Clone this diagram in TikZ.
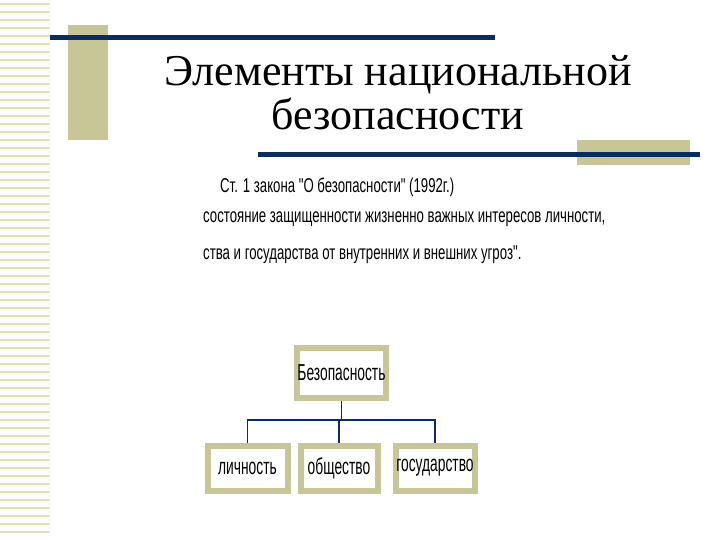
\documentclass[tikz,border=0pt]{standalone}
\usepackage{fontspec}
\usepackage{graphicx}
\setmainfont{Liberation Serif}
\newfontfamily\narrowsans{Liberation Sans}
\newcommand{\nar}[1]{\scalebox{0.6}[1]{#1}}
\definecolor{olive}{RGB}{200,198,150}
\definecolor{navy}{RGB}{10,45,95}
\definecolor{stripe}{RGB}{225,222,185}
\begin{document}
\begin{tikzpicture}[x=1pt,y=-1pt,
  box/.style={draw=olive,line width=6pt,fill=white,inner sep=0pt,font=\narrowsans\fontsize{23}{23}\selectfont},
  conn/.style={draw=navy,line width=1.4pt},
  body/.style={anchor=west,inner sep=0pt,font=\narrowsans\fontsize{20}{22}\selectfont}]
\useasboundingbox (0,0) rectangle (720,540);
\fill[white] (0,0) rectangle (720,540);
\foreach \y in {4,12,...,532} \draw[stripe,line width=1.6pt] (0,\y) -- (50,\y);
\fill[olive] (68,25) rectangle (108,140);
\draw[navy,line width=5pt] (50,38) -- (495,38);
\fill[olive] (577,140) rectangle (690,165);
\draw[navy,line width=5pt] (258,155) -- (700,155);
\node[font=\fontsize{44}{44}\selectfont,align=center] (title) at (398,93) {Элементы национальной\\безопасности};
\node[body] (l1) at (220,187) {\scalebox{0.66}[1]{Ст. 1 закона "О безопасности" (1992г.)}};
\node[body] (l2) at (203,219) {\scalebox{0.66}[1]{состояние защищенности жизненно важных интересов личности,}};
\node[body] (l3) at (203,255) {\scalebox{0.66}[1]{ства и государства от внутренних и внешних угроз".}};
\node[box,minimum width=88pt,minimum height=50pt] (top) at (341.5,372.5) {\nar{Безопасность}};
\node[box,minimum width=80pt,minimum height=45pt] (b1) at (247.5,468) {\nar{личность}};
\node[box,minimum width=77pt,minimum height=45pt] (b2) at (339,468) {\nar{общество}};
\node[box,minimum width=79pt,minimum height=45pt] (b3) at (435,468) {\nar{государство}};
\coordinate (j) at (341.5,420);
\draw[conn] (top.south) -- (j);
\draw[conn] (b1.north) |- (j) -| (b3.north);
\draw[conn] (j) -- (j -| b2.north) -- (b2.north);
\end{tikzpicture}
\end{document}
